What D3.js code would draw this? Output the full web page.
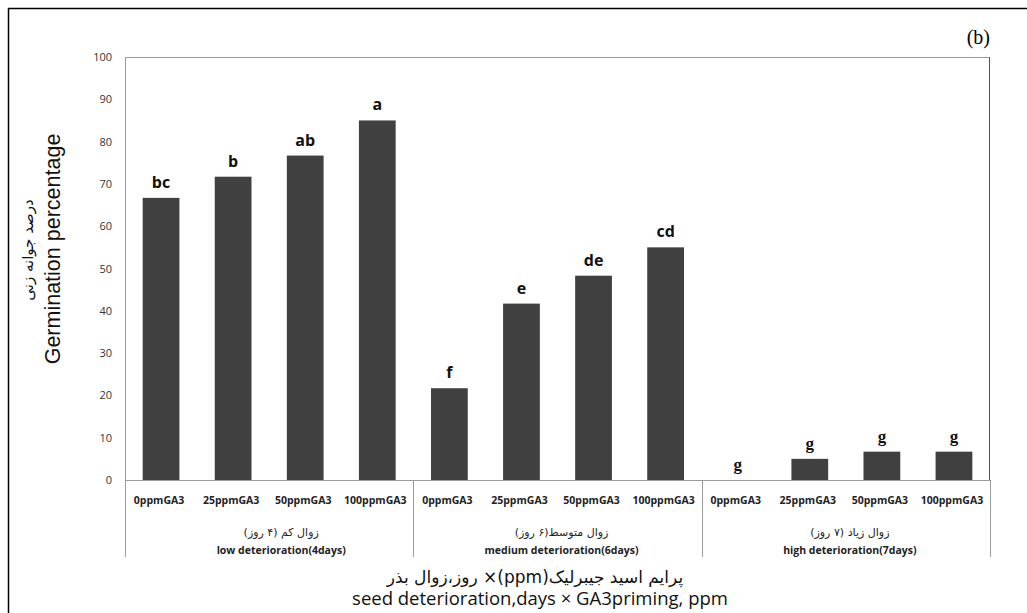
<!DOCTYPE html>
<html>
<head>
<meta charset="utf-8">
<script src="https://cdn.jsdelivr.net/npm/d3@7"></script>
<style>
  body { margin: 0; background: #fff; }
  svg { display: block; }
</style>
</head>
<body>
<div id="chart"></div>
<script>
// data
const groupsEn = ["low deterioration(4days)", "medium deterioration(6days)", "high deterioration(7days)"];
const groupsFa = ["زوال کم (۴ روز)", "زوال متوسط(۶ روز)", "زوال زیاد (۷ روز)"];
const doses = ["0ppmGA3", "25ppmGA3", "50ppmGA3", "100ppmGA3"];
const values = [
    [66.7, 71.7, 76.7, 85.0],
    [21.7, 41.7, 48.3, 55.0],
    [0, 5.0, 6.7, 6.7]
];
const letters = [
    ["bc", "b", "ab", "a"],
    ["f", "e", "de", "cd"],
    ["g", "g", "g", "g"]
];
const yTicks = [0, 10, 20, 30, 40, 50, 60, 70, 80, 90, 100];

const W = 1027, H = 613;
const margin = {top: 57, right: 37, bottom: 133, left: 125};
const width = W - margin.left - margin.right;
const height = H - margin.top - margin.bottom;

// flatten into one row per bar
const rows = [];
groupsEn.forEach((g, gi) => doses.forEach((d, di) => {
    rows.push({key: gi + "-" + di, group: gi, dose: d, value: values[gi][di], letter: letters[gi][di]});
}));

const svg = d3.select("#chart").append("svg")
    .attr("width", W)
    .attr("height", H);

// outer frame (only top and left edges are visible in the picture)
svg.append("line").attr("x1", 8).attr("x2", W).attr("y1", 8.5).attr("y2", 8.5)
    .attr("stroke", "#000").attr("stroke-width", 1.5);
svg.append("line").attr("x1", 8.5).attr("x2", 8.5).attr("y1", 8).attr("y2", H)
    .attr("stroke", "#000").attr("stroke-width", 1.5);

svg.append("text")
    .attr("x", 990).attr("y", 44)
    .attr("text-anchor", "end")
    .style("font-family", "'Liberation Serif', serif")
    .style("font-size", "20px")
    .text("(b)");

const g = svg.append("g")
    .attr("transform", "translate(" + margin.left + "," + margin.top + ")");

const x = d3.scaleBand()
    .domain(rows.map(d => d.key))
    .range([0, width])
    .paddingInner(0.49)
    .paddingOuter(0.245);

const y = d3.scaleLinear()
    .domain([0, 100])
    .range([height, 0]);

// plot border
g.append("line").attr("x1", 0).attr("x2", width).attr("y1", 0.5).attr("y2", 0.5)
    .attr("stroke", "#9a9a9a");
g.append("line").attr("x1", width - 0.5).attr("x2", width - 0.5).attr("y1", 0).attr("y2", height)
    .attr("stroke", "#555");

// y axis
const yAxis = g.append("g")
    .call(d3.axisLeft(y).tickValues(yTicks).tickSize(0).tickPadding(13));
yAxis.select(".domain").attr("stroke", "#9a9a9a");
yAxis.selectAll("text")
    .style("font-family", "'Open Sans', sans-serif")
    .style("font-size", "11px")
    .attr("fill", "#333");

// bars
g.append("g")
    .selectAll("rect")
    .data(rows)
    .enter()
    .append("rect")
    .attr("x", d => x(d.key))
    .attr("y", d => y(d.value))
    .attr("width", x.bandwidth())
    .attr("height", d => height - y(d.value))
    .attr("fill", "#404040");

// significance letters
g.append("g")
    .selectAll("text")
    .data(rows)
    .enter()
    .append("text")
    .attr("x", d => x(d.key) + x.bandwidth() / 2)
    .attr("y", d => y(d.value) - 10)
    .attr("text-anchor", "middle")
    .style("font-family", d => d.letter === "g" ? "'Liberation Serif', serif" : "'Open Sans', sans-serif")
    .style("font-weight", "bold")
    .style("font-size", d => d.letter === "g" ? "17px" : "16px")
    .attr("fill", "#111")
    .text(d => d.letter);

// zero line
g.append("line").attr("x1", 0).attr("x2", width).attr("y1", height + 0.5).attr("y2", height + 0.5)
    .attr("stroke", "#9a9a9a");

// group separators under the axis
const step = x.step();
const groupEdges = d3.range(groupsEn.length + 1).map(i => i * doses.length * step);
g.append("g")
    .selectAll("line")
    .data(groupEdges)
    .enter()
    .append("line")
    .attr("x1", d => Math.round(d) + 0.5)
    .attr("x2", d => Math.round(d) + 0.5)
    .attr("y1", height)
    .attr("y2", height + 77)
    .attr("stroke", "#9a9a9a");

// dose labels
g.append("g")
    .selectAll("text")
    .data(rows)
    .enter()
    .append("text")
    .attr("x", d => x(d.key) + x.bandwidth() / 2 - 2)
    .attr("y", height + 24)
    .attr("text-anchor", "middle")
    .style("font-family", "'Open Sans', sans-serif")
    .style("font-weight", "bold")
    .style("font-size", "10.5px")
    .attr("fill", "#222")
    .text(d => d.dose);

// group labels (Persian + English)
const groupLabels = g.append("g")
    .selectAll("g")
    .data(groupsEn)
    .enter()
    .append("g")
    .attr("transform", (d, i) => "translate(" + ((groupEdges[i] + groupEdges[i + 1]) / 2 + (i === 0 ? 12 : 4)) + "," + height + ")");
groupLabels.append("text")
    .attr("y", 56)
    .attr("text-anchor", "middle")
    .attr("direction", "rtl")
    .style("font-family", "'DejaVu Sans', sans-serif")
    .style("font-size", "11px")
    .attr("fill", "#222")
    .text((d, i) => groupsFa[i]);
groupLabels.append("text")
    .attr("y", 74)
    .attr("text-anchor", "middle")
    .style("font-family", "'Open Sans', sans-serif")
    .style("font-weight", "bold")
    .style("font-size", "10.5px")
    .attr("fill", "#222")
    .text(d => d);

// x axis title
svg.append("text")
    .attr("x", 535).attr("y", 583)
    .attr("text-anchor", "middle")
    .attr("direction", "rtl")
    .style("font-family", "'DejaVu Sans', sans-serif")
    .style("font-size", "17px")
    .attr("fill", "#111")
    .text("پرایم اسید جیبرلیک(ppm)× روز،زوال بذر");
svg.append("text")
    .attr("x", 540).attr("y", 605)
    .attr("text-anchor", "middle")
    .style("font-family", "'Open Sans', sans-serif")
    .style("font-size", "18.5px")
    .attr("fill", "#111")
    .text("seed deterioration,days × GA3priming, ppm");

// y axis titles
svg.append("text")
    .attr("transform", "translate(33,250) rotate(-90)")
    .attr("text-anchor", "middle")
    .attr("direction", "rtl")
    .style("font-family", "'DejaVu Sans', sans-serif")
    .style("font-size", "15px")
    .attr("fill", "#111")
    .text("درصد جوانه زنی");
svg.append("text")
    .attr("transform", "translate(60,249) rotate(-90)")
    .attr("text-anchor", "middle")
    .style("font-family", "'Liberation Sans', Arial, sans-serif")
    .style("font-size", "21.5px")
    .attr("fill", "#111")
    .text("Germination percentage");
</script>
</body>
</html>
